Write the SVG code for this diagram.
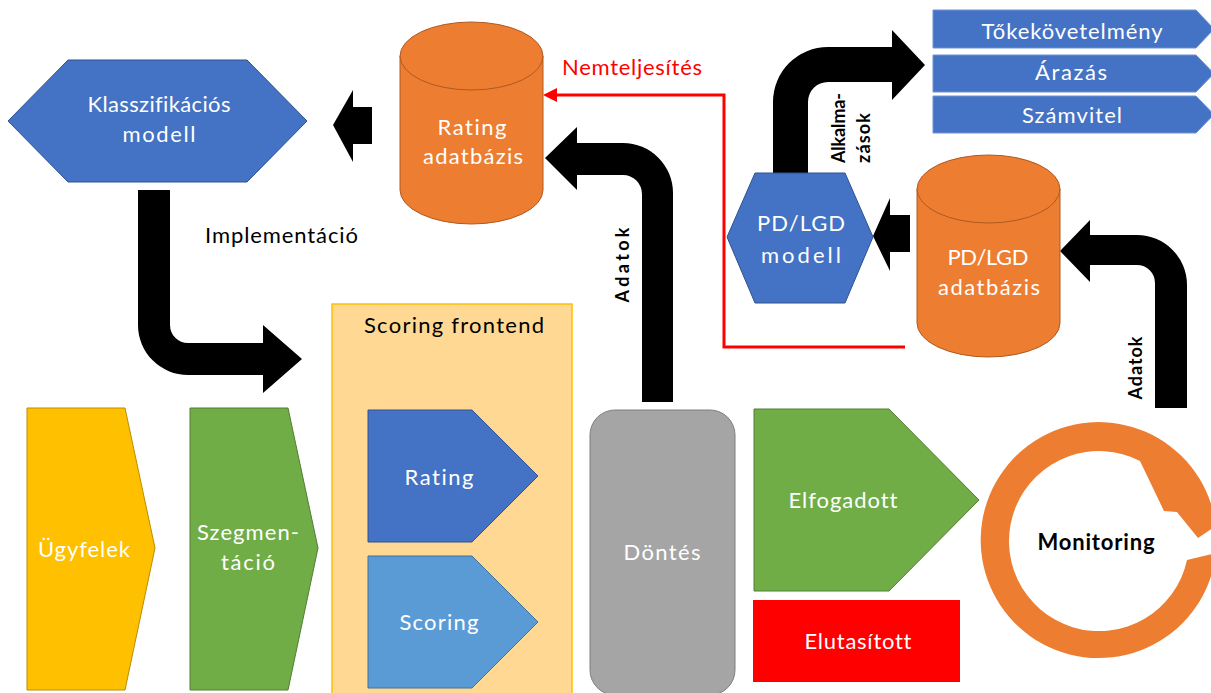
<svg xmlns="http://www.w3.org/2000/svg" width="1211" height="693" viewBox="0 0 1211 693">
  <style>
    text { font-family: Lato, "Liberation Sans", sans-serif; font-size: 22px; font-variant-ligatures: none; }
    .w { fill: #ffffff; text-anchor: middle; }
    .k { fill: #000000; }
    .rot { font-weight: bold; font-size: 18px; fill: #000000; }
    .blue { fill: #4472C4; stroke: #2F528F; stroke-width: 1; }
    .lblue { fill: #5B9BD5; stroke: #41719C; stroke-width: 1; }
    .orange { fill: #ED7D31; stroke: #AE5A21; stroke-width: 1; }
    .green { fill: #70AD47; stroke: #507E32; stroke-width: 1; }
    .yellow { fill: #FFC000; stroke: #BC8C00; stroke-width: 1; }
    .gray { fill: #A5A5A5; stroke: #7F7F7F; stroke-width: 1; }
    .bar { fill: #4472C4; stroke: #6F93D3; stroke-width: 1; }
    .thick { fill: #000000; }
  </style>

  <!-- Scoring frontend container -->
  <g id="scoring-frontend">
    <rect x="332" y="304" width="240" height="395" fill="#FFD994" stroke="#FFC000" stroke-width="1.5"/>
    <text x="454" y="333" class="k" text-anchor="middle" font-size="21" textLength="180" lengthAdjust="spacing">Scoring frontend</text>
  </g>

  <!-- Connectors -->
  <g id="connectors">
    <!-- Rating adatbázis -> Klasszifikációs modell -->
    <path class="thick" d="M372,107 L353,107 L353,90 L333,125 L353,162 L353,144 L372,144 Z"/>
    <!-- Implementáció -->
    <path class="thick" d="M138,190 L170,190 L170,325 A18,18 0 0 0 188,343 L263,343 L263,325 L302,359 L263,393 L263,375 L188,375 A50,50 0 0 1 138,325 Z"/>
    <!-- Adatok: Döntés -> Rating adatbázis -->
    <path class="thick" d="M642,402 L673,402 L673,193 A50,50 0 0 0 623,143 L577,143 L577,127 L545,158 L577,190 L577,175 L623,175 A19,19 0 0 1 642,194 Z"/>
    <!-- Adatok: Monitoring -> PD/LGD adatbázis -->
    <path class="thick" d="M1155,408 L1187,408 L1187,285 A50,50 0 0 0 1137,235 L1090,235 L1090,220 L1060,251 L1090,282 L1090,265 L1137,265 A18,18 0 0 1 1155,283 Z"/>
    <!-- PD/LGD adatbázis -> PD/LGD modell -->
    <path class="thick" d="M910,215 L890,215 L890,198 L873,236 L890,271 L890,252 L910,252 Z"/>
    <!-- Alkalmazások: PD/LGD modell -> applications -->
    <path class="thick" d="M773,173 L773,102 A55,55 0 0 1 828,47 L892,47 L892,30 L925,65 L892,100 L892,82 L828,82 A20,20 0 0 0 808,102 L808,173 Z"/>
    <!-- Nemteljesítés feedback line -->
    <polyline points="905,347 724,347 724,95 552,95" fill="none" stroke="#FF0000" stroke-width="3"/>
    <polygon points="543,95 557,88 557,102" fill="#FF0000"/>

    <text x="562" y="75" fill="#FF0000" font-size="20" textLength="140" lengthAdjust="spacing">Nemteljesítés</text>
    <text x="205" y="243" class="k" font-size="21" textLength="153" lengthAdjust="spacing">Implementáció</text>
    <text class="rot" transform="translate(629,265) rotate(-90)" text-anchor="middle" font-size="19" textLength="75" lengthAdjust="spacing">Adatok</text>
    <text class="rot" transform="translate(1142,368) rotate(-90)" text-anchor="middle" font-size="17" textLength="63" lengthAdjust="spacing">Adatok</text>
    <text class="rot" transform="translate(845,163) rotate(-90)" font-size="17" textLength="70" lengthAdjust="spacing">Alkalma-</text>
    <text class="rot" transform="translate(870,163) rotate(-90)" font-size="17" textLength="50" lengthAdjust="spacing">zások</text>
  </g>

  <!-- Klasszifikációs modell -->
  <g id="klasszifikacios-modell">
    <polygon class="blue" points="8,121 68,60 247,60 307,121 247,182 68,182"/>
    <text x="159" y="112" class="w" font-size="21" textLength="143" lengthAdjust="spacing">Klasszifikációs</text>
    <text x="159" y="142" class="w" font-size="21" textLength="73" lengthAdjust="spacing">modell</text>
  </g>

  <!-- Rating adatbázis -->
  <g id="rating-adatbazis">
    <path class="orange" d="M400,56 V190 A71.5,34 0 0 0 543,190 V56 Z"/>
    <ellipse class="orange" cx="471.5" cy="56" rx="71.5" ry="34"/>
    <text x="472" y="135" class="w" textLength="69" lengthAdjust="spacing">Rating</text>
    <text x="473" y="164" class="w" textLength="100" lengthAdjust="spacing">adatbázis</text>
  </g>

  <!-- Application bars -->
  <g id="tokekovetelmeny">
    <path class="bar" d="M933,10 H1196 L1214,29 L1196,48 H933 Z"/>
    <text x="1072" y="39" class="w" textLength="181" lengthAdjust="spacing">Tőkekövetelmény</text>
  </g>
  <g id="arazas">
    <path class="bar" d="M933,55 H1196 L1214,73.5 L1196,92 H933 Z"/>
    <text x="1071" y="80" class="w" textLength="72" lengthAdjust="spacing">Árazás</text>
  </g>
  <g id="szamvitel">
    <path class="bar" d="M933,96 H1196 L1214,114.5 L1196,133 H933 Z"/>
    <text x="1072" y="123" class="w" textLength="100" lengthAdjust="spacing">Számvitel</text>
  </g>

  <!-- PD/LGD modell -->
  <g id="pdlgd-modell">
    <polygon class="blue" points="727,237 755,173 845,173 873,237 845,303 755,303"/>
    <text x="801" y="231" class="w" font-size="23" textLength="88" lengthAdjust="spacing">PD/LGD</text>
    <text x="801" y="263" class="w" font-size="23" textLength="80" lengthAdjust="spacing">modell</text>
  </g>

  <!-- PD/LGD adatbázis -->
  <g id="pdlgd-adatbazis">
    <path class="orange" d="M917,189 V323 A71.5,34 0 0 0 1060,323 V189 Z"/>
    <ellipse class="orange" cx="988.5" cy="189" rx="71.5" ry="34"/>
    <text x="988" y="265" class="w" textLength="81" lengthAdjust="spacing">PD/LGD</text>
    <text x="989" y="295" class="w" textLength="102" lengthAdjust="spacing">adatbázis</text>
  </g>

  <!-- Ügyfelek -->
  <g id="ugyfelek">
    <polygon class="yellow" points="27,408 125,408 155,548 125,690 27,690"/>
    <text x="84" y="557" class="w" textLength="92" lengthAdjust="spacing">Ügyfelek</text>
  </g>

  <!-- Szegmentáció -->
  <g id="szegmentacio">
    <polygon class="green" points="190,408 288,408 318,548 288,690 190,690"/>
    <text x="248" y="540" class="w" textLength="102" lengthAdjust="spacing">Szegmen-</text>
    <text x="248" y="570" class="w" textLength="54" lengthAdjust="spacing">táció</text>
  </g>

  <!-- Rating -->
  <g id="rating">
    <polygon class="blue" points="368,410 472,410 538,476 472,542 368,542"/>
    <text x="439" y="485" class="w" textLength="69" lengthAdjust="spacing">Rating</text>
  </g>

  <!-- Scoring -->
  <g id="scoring">
    <polygon class="lblue" points="368,556 472,556 538,622 472,688 368,688"/>
    <text x="439" y="630" class="w" textLength="79" lengthAdjust="spacing">Scoring</text>
  </g>

  <!-- Döntés -->
  <g id="dontes">
    <rect class="gray" x="590" y="410" width="145" height="285" rx="25" ry="25"/>
    <text x="662" y="560" class="w" textLength="77" lengthAdjust="spacing">Döntés</text>
  </g>

  <!-- Elfogadott -->
  <g id="elfogadott">
    <polygon class="green" points="754,409 889,409 979,500 889,591 754,591"/>
    <text x="843" y="508" class="w" textLength="109" lengthAdjust="spacing">Elfogadott</text>
  </g>

  <!-- Elutasított -->
  <g id="elutasitott">
    <rect x="753" y="600" width="207" height="82" fill="#FF0000"/>
    <text x="858" y="649" class="w" textLength="107" lengthAdjust="spacing">Elutasított</text>
  </g>

  <!-- Monitoring cycle: circular arrow, clockwise, head at upper right -->
  <g id="monitoring">
    <path d="M1216,553 A118,118 0 1 1 1211.2,504.5 L1216,503 L1216,526 L1198,538 L1177,512 L1164,511 L1140,461 A90,90 0 1 0 1187,560 Z" fill="#ED7D31"/>
    <text x="1096" y="550" class="k" text-anchor="middle" font-weight="bold" font-size="21" textLength="117" lengthAdjust="spacing">Monitoring</text>
  </g>
</svg>
